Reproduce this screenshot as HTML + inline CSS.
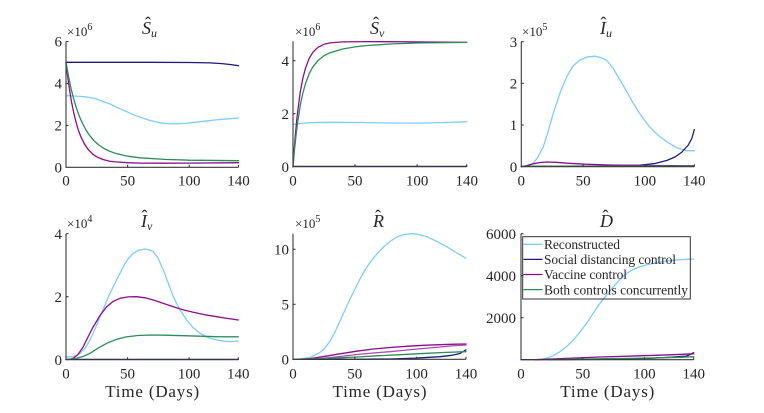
<!DOCTYPE html>
<html>
<head>
<meta charset="utf-8">
<style>
html,body{margin:0;padding:0;background:#fff;}
svg{display:block;}
text{font-family:"Liberation Serif",serif;fill:#262626;}
.tk{font-size:15px;}
.ex{font-size:13px;}
.ti{font-size:18px;font-style:italic;}
.ht{font-size:18px;font-style:normal;}
.sb{font-size:12px;font-style:italic;}
.xl{font-size:17px;}
.lg{font-size:13.5px;}
.ax{stroke:#3a3a3a;stroke-width:1.1;fill:none;}
.c{fill:none;stroke-width:1.3;stroke-linejoin:round;stroke-linecap:round;}
.lb{stroke:#7fcbfa;}
.nv{stroke:#1c1c7c;}
.pu{stroke:#8c0d8c;}
.pl{stroke:#b04ab0;}
.gr{stroke:#2b8c5a;}
</style>
</head>
<body>
<svg width="764" height="413" viewBox="0 0 764 413" xmlns="http://www.w3.org/2000/svg" font-family="Liberation Serif, serif">
<rect width="764" height="413" fill="#fff"/>

<!-- ================= Panel 1: S_u ================= -->
<g>
<polyline class="c lb" points="66,95.7 75,96 85,96.8 95,98.5 103,101.5 110,104 118,107.8 126.7,111.7 135,115.3 143.3,118.3 151,120.8 160,122.7 167,123.6 175,123.9 185,123.4 200,121.7 215,120 228,118.8 238.5,118"/>
<polyline class="c nv" points="66,62.3 150,62.3 190,62.5 210,62.9 222,63.6 230,64.5 238.5,65.7"/>
<polyline class="c pu" points="66,62.45 68.5,82.5 70.9,98.6 73.4,111.4 75.9,121.7 78.3,130 80.8,136.6 84.5,144.1 88.2,149.5 93.1,154.4 98,157.5 103,159.5 109.1,161.1 115.3,161.9 127.6,162.7 139.9,163.1 164.6,163.2 189.2,163.1 238.5,162.7"/>
<polyline class="c gr" points="66,62.45 68.5,76.2 70.9,87.8 73.4,97.8 75.9,106.3 78.3,113.5 80.8,119.7 84.5,127.4 88.2,133.5 93.1,139.8 98,144.4 103,147.9 109.1,151 115.3,153.3 127.6,156.2 139.9,157.8 164.6,159.4 189.2,160.2 238.5,160.7"/>
<path class="ax" d="M66,41.5 V167.3 H238.5"/>
<path class="ax" d="M66,125.4 h2.5 M66,83.4 h2.5 M66,41.5 h2.5 M127.6,167.3 v-2.5 M189.2,167.3 v-2.5 M238.5,167.3 v-2.5"/>
<text class="tk" x="62" y="172.5" text-anchor="end">0</text>
<text class="tk" x="62" y="130.6" text-anchor="end">2</text>
<text class="tk" x="62" y="88.6" text-anchor="end">4</text>
<text class="tk" x="62" y="46.7" text-anchor="end">6</text>
<text class="tk" x="66" y="185.5" text-anchor="middle">0</text>
<text class="tk" x="127.6" y="185.5" text-anchor="middle">50</text>
<text class="tk" x="189.2" y="185.5" text-anchor="middle">100</text>
<text class="tk" x="238.5" y="185.5" text-anchor="middle">140</text>
<text class="ex" x="67" y="36">×10<tspan font-size="10" dy="-6">6</tspan></text>
<text class="ti" x="142" y="34">S<tspan class="sb" dy="3">u</tspan></text>
<text class="ht" x="145" y="29.5">ˆ</text>
</g>

<!-- ================= Panel 2: S_v ================= -->
<g>
<polyline class="c lb" points="293,124.5 300,123.5 310,122.7 330,122.3 360,122.5 390,123 420,123.1 445,122.5 466.7,121.8"/>
<polyline class="c nv" points="293,166.4 466.7,166.4"/>
<polyline class="c pu" points="293,166.7 294.2,148.8 295.5,133.5 296.7,120.4 298,109.2 300.4,91.3 302.9,78.1 305.4,68.5 309.1,58.5 312.9,52.3 317.8,47.4 324,44.3 330.2,42.9 342.6,41.9 367.4,41.6 417.1,41.9 466.7,42.4"/>
<polyline class="c gr" points="293,166.7 294.2,152.5 295.5,140.3 296.7,129.6 298,120.2 300.4,104.8 302.9,93 305.4,83.9 309.1,73.9 312.9,66.8 317.8,60.7 324,55.7 330.2,52.7 342.6,49 355,46.9 367.4,45.5 392.3,43.9 417.1,43 466.7,42.4"/>
<path class="ax" d="M293,41.3 V166.7 H466.7"/>
<path class="ax" d="M293,113.7 h2.5 M293,60.7 h2.5 M355,166.7 v-2.5 M417.1,166.7 v-2.5 M466.7,166.7 v-2.5"/>
<text class="tk" x="289" y="171.9" text-anchor="end">0</text>
<text class="tk" x="289" y="118.9" text-anchor="end">2</text>
<text class="tk" x="289" y="65.9" text-anchor="end">4</text>
<text class="tk" x="293" y="185.5" text-anchor="middle">0</text>
<text class="tk" x="355" y="185.5" text-anchor="middle">50</text>
<text class="tk" x="417.1" y="185.5" text-anchor="middle">100</text>
<text class="tk" x="466.7" y="185.5" text-anchor="middle">140</text>
<text class="ex" x="295" y="36">×10<tspan font-size="10" dy="-6">6</tspan></text>
<text class="ti" x="370" y="34">S<tspan class="sb" dy="3">v</tspan></text>
<text class="ht" x="373" y="29.5">ˆ</text>
</g>

<!-- ================= Panel 3: I_u ================= -->
<g>
<polyline class="c lb" points="521.3,166.7 527,166 533.3,163.3 538,157 543.3,146.7 548,132 553.3,113.3 560,93 566.7,76.7 573,66 580,60 587,57 595,56.2 601,57.5 606.7,60.5 613,68 620,80 627,92 633.3,103.3 640,114 646.7,123.3 653,130.5 660,136.7 668,142.5 676.7,147.7 686.7,150.7 694.3,150.7"/>
<polyline class="c nv" points="521.3,166.3 600,166 640,165.2 655,163.5 666.7,160.5 675,157 682,152 688.3,145 692,138 694.3,129.5"/>
<polyline class="c pu" points="521.3,166.7 527,165.5 533.3,163.8 540,162.5 547,162 556,162.3 566.7,163.2 585,164.2 610,165 650,165.5 694.3,165.8"/>
<polyline class="c gr" points="521.3,166.3 694.3,166.1"/>
<path class="ax" d="M521.3,41.5 V166.7 H694.3"/>
<path class="ax" d="M521.3,125 h2.5 M521.3,83.3 h2.5 M521.3,41.7 h2.5 M583.1,166.7 v-2.5 M644.9,166.7 v-2.5 M694.3,166.7 v-2.5"/>
<text class="tk" x="517.3" y="171.9" text-anchor="end">0</text>
<text class="tk" x="517.3" y="130.2" text-anchor="end">1</text>
<text class="tk" x="517.3" y="88.5" text-anchor="end">2</text>
<text class="tk" x="517.3" y="46.9" text-anchor="end">3</text>
<text class="tk" x="521.3" y="185.5" text-anchor="middle">0</text>
<text class="tk" x="583.1" y="185.5" text-anchor="middle">50</text>
<text class="tk" x="644.9" y="185.5" text-anchor="middle">100</text>
<text class="tk" x="694.3" y="185.5" text-anchor="middle">140</text>
<text class="ex" x="522" y="36">×10<tspan font-size="10" dy="-6">5</tspan></text>
<text class="ti" x="600" y="34">I<tspan class="sb" dy="3">u</tspan></text>
<text class="ht" x="600.5" y="29.5">ˆ</text>
</g>

<!-- ================= Panel 4: I_v ================= -->
<g>
<polyline class="c lb" points="66,356.7 72,356.7 76,355.8 80,353.3 85,348.5 90,340 95,329 100,316.7 105,305 110,293.3 117,279 123.3,266.7 128,259 133.3,253.3 139,250 145,249.2 149,249.8 153.3,251.7 158,258 163.3,270 168,282.5 173.3,296.7 180,310 186.7,320 193,327.5 200,333.3 208,337.5 216.7,340 225,341.3 232,341.6 238.3,341"/>
<polyline class="c nv" points="66,359.4 238.3,359.4"/>
<polyline class="c pu" points="66,359.3 70,359.2 73.3,358.3 78,354.5 83.3,346.7 88,337 93.3,326.7 100,315.5 106.7,306.7 113,301.5 120,298.3 128,296.9 136.7,296.7 145,297.8 153.3,300 163,303.2 173.3,306.7 183,309.8 193.3,312.3 205,314.8 216.7,316.7 228,318.5 238.3,320"/>
<polyline class="c gr" points="66,359.5 72,359.3 76.7,358.3 83,356.5 90,353.3 98,348.2 106.7,343.3 116,339.5 126.7,336.8 138,335.5 150,335 165,335.2 183.3,335.7 200,336.2 216.7,336.7 238.3,336.8"/>
<path class="ax" d="M66,233.7 V359.7 H238.3"/>
<path class="ax" d="M66,296.7 h2.5 M66,233.7 h2.5 M127.5,359.7 v-2.5 M189.1,359.7 v-2.5 M238.3,359.7 v-2.5"/>
<text class="tk" x="62" y="364.9" text-anchor="end">0</text>
<text class="tk" x="62" y="301.9" text-anchor="end">2</text>
<text class="tk" x="62" y="238.9" text-anchor="end">4</text>
<text class="tk" x="66" y="378.5" text-anchor="middle">0</text>
<text class="tk" x="127.5" y="378.5" text-anchor="middle">50</text>
<text class="tk" x="189.1" y="378.5" text-anchor="middle">100</text>
<text class="tk" x="238.3" y="378.5" text-anchor="middle">140</text>
<text class="ex" x="67" y="228.2">×10<tspan font-size="10" dy="-6">4</tspan></text>
<text class="ti" x="141" y="227">I<tspan class="sb" dy="3">v</tspan></text>
<text class="ht" x="141.5" y="222.5">ˆ</text>
<text class="xl" x="152.2" y="397" text-anchor="middle" textLength="94" lengthAdjust="spacing">Time (Days)</text>
</g>

<!-- ================= Panel 5: R ================= -->
<g>
<polyline class="c lb" points="293,359.3 300,359 310,357.5 320,352.5 325,348 330,341 335,332 340,321 345,310 350,299 355,289 360,279 365,270 370,262.5 376,255 383,247.5 390,241.5 397,237 404,234.5 411.7,233.7 419,234.5 426.7,236.7 436,241 446.7,246.7 456,252.5 466,258.3"/>
<polyline class="c nv" points="293,359.3 350,359.3 390,359 415,358.2 440,356.7 452,355.3 460,353.5 466,349.8"/>
<polyline class="c pu" points="293,359.3 300,359.2 310,358.7 325,356.3 340,353.8 356.7,351.2 373.3,349 390,347.5 406.7,346.3 423,345.3 440,344.7 455,344.2 466,344"/>
<polyline class="c pl" points="293,359.3 310,359 323.3,358.3 340,356.5 356.7,354.5 373.3,353 390,351.7 406.7,350 423,348.5 440,347 455,345.6 466,345"/>
<polyline class="c gr" points="293,359.3 310,359 323,358.6 340,357.8 356.7,357 376.7,355.8 400,354.7 426.7,353.3 446,352.4 466,351.7"/>
<path class="ax" d="M293,233.7 V359.3 H466"/>
<path class="ax" d="M293,304.3 h2.5 M293,249.3 h2.5 M354.8,359.3 v-2.5 M416.6,359.3 v-2.5 M466,359.3 v-2.5"/>
<text class="tk" x="289" y="364.5" text-anchor="end">0</text>
<text class="tk" x="289" y="309.5" text-anchor="end">5</text>
<text class="tk" x="289" y="254.5" text-anchor="end">10</text>
<text class="tk" x="293" y="378.5" text-anchor="middle">0</text>
<text class="tk" x="354.8" y="378.5" text-anchor="middle">50</text>
<text class="tk" x="416.6" y="378.5" text-anchor="middle">100</text>
<text class="tk" x="466" y="378.5" text-anchor="middle">140</text>
<text class="ex" x="295" y="228.2">×10<tspan font-size="10" dy="-6">5</tspan></text>
<text class="ti" x="373" y="227">R</text>
<text class="ht" x="375" y="222.5">ˆ</text>
<text class="xl" x="379.5" y="397" text-anchor="middle" textLength="94" lengthAdjust="spacing">Time (Days)</text>
</g>

<!-- ================= Panel 6: D ================= -->
<g>
<polyline class="c lb" points="535,359.7 541,359.3 546.7,358.3 553,355.8 560,351.7 566.7,346.5 573.3,340 580,332 586.7,323.3 593,313.5 600,303.3 606.7,295 613.3,286.7 620,279.5 626.7,273.3 633,269.5 640,266.7 648,264.5 656.7,262.7 665,261.3 673.3,260.3 683,259.5 693.7,259"/>
<polyline class="c nv" points="521,359.6 566.7,359.6 620,359.2 650,358.3 672,357.2 686.7,356 693.7,352.7"/>
<polyline class="c pu" points="535,359.7 560,358.6 600,357 640,355.8 670,354.8 693.7,353.8"/>
<polyline class="c gr" points="550,359.7 600,358.8 650,358 680,357.3 693.7,356.7"/>
<path class="ax" d="M521,233.7 V359.7 H693.7"/>
<path class="ax" d="M521,317.7 h2.5 M521,275.7 h2.5 M521,233.7 h2.5 M582.7,359.7 v-2.5 M644.4,359.7 v-2.5 M693.7,359.7 v-2.5"/>
<text class="tk" x="516" y="322.9" text-anchor="end">2000</text>
<text class="tk" x="516" y="280.9" text-anchor="end">4000</text>
<text class="tk" x="516" y="238.9" text-anchor="end">6000</text>
<text class="tk" x="521" y="378.5" text-anchor="middle">0</text>
<text class="tk" x="582.7" y="378.5" text-anchor="middle">50</text>
<text class="tk" x="644.4" y="378.5" text-anchor="middle">100</text>
<text class="tk" x="693.7" y="378.5" text-anchor="middle">140</text>
<text class="ti" x="600" y="227">D</text>
<text class="ht" x="602.5" y="222.5">ˆ</text>
<text class="xl" x="607.3" y="397" text-anchor="middle" textLength="94" lengthAdjust="spacing">Time (Days)</text>

<!-- legend -->
<rect x="522.7" y="236.7" width="167.6" height="62.3" fill="none" stroke="#333" stroke-width="1"/>
<line class="c lb" x1="524" y1="244.3" x2="542" y2="244.3"/>
<line class="c nv" x1="524" y1="259.4" x2="542" y2="259.4"/>
<line class="c pu" x1="524" y1="274.5" x2="542" y2="274.5"/>
<line class="c gr" x1="524" y1="289.6" x2="542" y2="289.6"/>
<text class="lg" x="544" y="249" textLength="76" lengthAdjust="spacing">Reconstructed</text>
<text class="lg" x="544" y="264.1" textLength="132" lengthAdjust="spacing">Social distancing control</text>
<text class="lg" x="544" y="279.2" textLength="83" lengthAdjust="spacing">Vaccine control</text>
<text class="lg" x="544" y="294.3" textLength="144" lengthAdjust="spacing">Both controls concurrently</text>
</g>
</svg>
</body>
</html>
